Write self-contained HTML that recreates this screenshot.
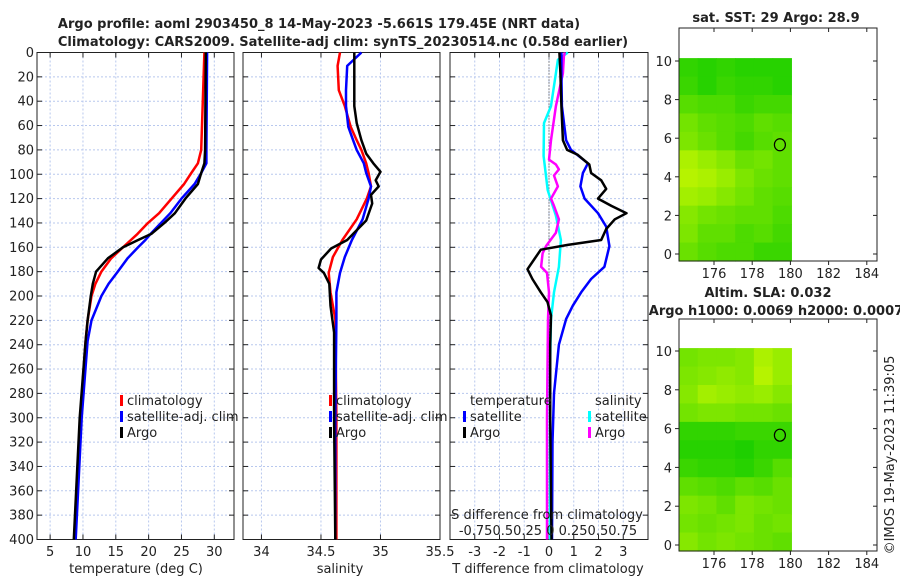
<!DOCTYPE html>
<html><head><meta charset="utf-8"><style>
body{margin:0;background:#fff;}
svg{display:block;font-family:"DejaVu Sans","Liberation Sans",sans-serif;}
</style></head><body>
<svg id="c" width="900" height="580" viewBox="0 0 900 580"></svg>
<script>
// temperature panel
const tDep=[0,80,91,99,108,120,132,140,149,154,160,169,180,190,200,220,237,300,400];
const tClim=[28.5,28.0,27.5,26.5,25.4,23.5,21.6,19.9,18.3,17.3,16.1,14.3,12.8,11.9,11.3,10.7,10.4,9.6,8.7];
const tSat=[28.9,28.8,28.8,28.0,27.0,25.0,23.3,21.9,20.3,19.5,18.4,16.8,15.3,13.9,12.8,11.3,10.7,9.8,8.9];
const tArgo=[28.7,28.6,28.5,28.0,27.5,25.6,24.0,22.4,20.4,18.4,16.1,13.8,12.0,11.5,11.2,10.7,10.4,9.5,8.6];
// salinity panel
const sDep=[0,11,31,44,61,72,80,91,99,110,120,137,154,168,181,197,219,300,400];
const sClim=[34.66,34.64,34.65,34.70,34.75,34.80,34.84,34.88,34.90,34.92,34.885,34.80,34.68,34.60,34.565,34.58,34.62,34.63,34.63];
const sSat=[34.84,34.72,34.71,34.71,34.73,34.77,34.80,34.86,34.88,34.92,34.90,34.85,34.76,34.70,34.66,34.63,34.63,34.62,34.62];
const aDep=[0,44,58,72,83,91,98,105,110,117,124,138,145,154,161,170,177,181,190,208,230,300,400];
const sArgo=[34.78,34.78,34.80,34.84,34.88,34.94,35.0,34.96,34.985,34.92,34.93,34.88,34.81,34.72,34.585,34.50,34.48,34.525,34.57,34.58,34.61,34.61,34.62];
// difference panel
const dDep=[0,17,44,72,80,84,92,99,105,112,120,126,132,137,145,154,158,162,170,178,186,197,205,216,240,300,400];
const dTArgo=[0.42,0.46,0.5,0.56,0.73,1.16,1.63,1.7,2.11,2.31,1.98,2.52,3.13,2.66,2.31,2.11,0.76,-0.33,-0.6,-0.87,-0.67,-0.33,-0.06,0.08,0.05,0.05,0.1];
const eDep=[0,17,44,72,80,91,99,110,120,132,143,159,176,186,197,208,219,240,280,320,400];
const dTSat=[0.5,0.5,0.52,0.69,0.89,1.57,1.37,1.27,1.44,1.98,2.31,2.44,2.24,1.7,1.3,0.96,0.69,0.4,0.2,0.14,0.12];
const fDep=[0,6,44,58,85,113,134,154,176,197,219,260,400];
const dSSat=[0.19,0.09,0.02,-0.05,-0.055,-0.013,0.07,0.12,0.1,0.05,0.02,0.01,0.01];
const gDep=[0,3,17,44,72,88,92,96,101,110,120,126,137,148,159,165,176,181,197,219,300,400];
const dSArgo=[0.16,0.15,0.14,0.07,0.02,0.0,0.07,0.1,0.05,0.09,0.02,0.05,0.1,0.07,-0.03,-0.065,-0.08,-0.02,0.0,-0.01,-0.02,-0.02];
const tTicks=[5,10,15,20,25,30], sTicks=[34,34.5,35,35.5], dTicks=[-3,-2,-1,0,1,2,3];
const yTicks=[0,20,40,60,80,100,120,140,160,180,200,220,240,260,280,300,320,340,360,380,400];
// map grids (rows top=lat 10 -> bottom lat 0, cols lon 174.4->180)
const sstGrid=[
[0.15,0.1,0.15,0.1,0.1,0.1],[0.2,0.1,0.2,0.15,0.15,0.1],[0.35,0.3,0.3,0.2,0.25,0.25],[0.5,0.4,0.35,0.3,0.4,0.35],
[0.55,0.45,0.35,0.25,0.35,0.4],[0.8,0.7,0.6,0.45,0.5,0.4],[0.85,0.8,0.7,0.55,0.45,0.4],[0.75,0.7,0.6,0.5,0.4,0.35],
[0.6,0.5,0.45,0.4,0.4,0.3],[0.55,0.4,0.4,0.3,0.35,0.25],[0.45,0.35,0.3,0.3,0.2,0.2]];
const slaGrid=[
[0.5,0.55,0.55,0.6,0.8,0.7],[0.55,0.6,0.65,0.6,0.85,0.7],[0.6,0.75,0.7,0.65,0.7,0.6],[0.5,0.55,0.55,0.5,0.5,0.45],
[0.15,0.15,0.15,0.2,0.2,0.2],[0.1,0.1,0.1,0.05,0.15,0.15],[0.2,0.15,0.15,0.1,0.2,0.35],[0.4,0.35,0.3,0.4,0.35,0.45],
[0.55,0.5,0.4,0.55,0.5,0.45],[0.5,0.45,0.5,0.55,0.45,0.5],[0.6,0.5,0.55,0.5,0.45,0.4]];
const argoLon=179.45, argoLat=5.66;

const svg=document.getElementById('c');
const NS='http://www.w3.org/2000/svg';
function el(tag,at,parent){const e=document.createElementNS(NS,tag);for(const k in at)e.setAttribute(k,at[k]);(parent||svg).appendChild(e);return e;}
function txt(s,x,y,at,parent){const e=el('text',Object.assign({x:x,y:y,'font-size':13,fill:'#222'},at||{}),parent);e.textContent=s;return e;}
const Y0=52.5,Y1=539.5;
const yS=d=>Y0+d/400*(Y1-Y0);
function panel(name,x0,x1,lo,hi,ticks,fmt){
  const g=el('g',{});
  
  
  const xs=v=>x0+(v-lo)/(hi-lo)*(x1-x0);
  ticks.forEach(t=>{el('line',{x1:xs(t),x2:xs(t),y1:Y0,y2:Y1,stroke:'#b8c8ee','stroke-width':1,'stroke-dasharray':'2,2'},g);
    el('line',{x1:xs(t),x2:xs(t),y1:Y1,y2:Y1-5,stroke:'#222'},g);el('line',{x1:xs(t),x2:xs(t),y1:Y0,y2:Y0+5,stroke:'#222'},g);
    const l=txt(fmt(t),xs(t),556,{'text-anchor':'middle'},g);});
  yTicks.forEach(d=>{if(d>0&&d<400)el('line',{x1:x0,x2:x1,y1:yS(d),y2:yS(d),stroke:'#b8c8ee','stroke-width':1,'stroke-dasharray':'2,2'},g);
    el('line',{x1:x0,x2:x0+5,y1:yS(d),y2:yS(d),stroke:'#222'},g);el('line',{x1:x1,x2:x1-5,y1:yS(d),y2:yS(d),stroke:'#222'},g);});
  el('rect',{x:x0,y:Y0,width:x1-x0,height:Y1-Y0,fill:'none',stroke:'#222'},g);
  return {g,xs};
}
function line(p,vals,deps,color,name,w){
  const pts=vals.map((v,i)=>p.xs(v).toFixed(1)+','+yS(deps[i]).toFixed(1)).join(' ');
  const l=el('polyline',{points:pts,fill:'none',stroke:color,'stroke-width':w||2.5,'stroke-linejoin':'round'},p.g);
  
  
}
function legend(p,x,y,color,label,name){
  el('rect',{x:x,y:y-10,width:3,height:11,fill:color},p.g);
  const t=txt(label,x+7,y,{},p.g);
  
  
}
yTicks.forEach(d=>{const l=txt(String(d),34,yS(d)+4.5,{'text-anchor':'end'});});
// panel 1
const p1=panel('temperature-panel',37,234,3,33,tTicks,String);
line(p1,tClim,tDep,'#f00','climatology-temp-line');
line(p1,tSat,tDep,'#00f','satellite-temp-line');
line(p1,tArgo,tDep,'#000','argo-temp-line');
legend(p1,120,405,'#f00','climatology','legend-climatology');
legend(p1,120,421,'#00f','satellite-adj. clim','legend-satellite');
legend(p1,120,437,'#000','Argo','legend-argo');
txt('temperature (deg C)',136,573,{'text-anchor':'middle'});
// panel 2
const p2=panel('salinity-panel',243,440,33.845,35.5,sTicks,String);
line(p2,sClim,sDep,'#f00','climatology-sal-line');
line(p2,sSat,sDep,'#00f','satellite-sal-line');
line(p2,sArgo,aDep,'#000','argo-sal-line');
legend(p2,329,405,'#f00','climatology','legend-climatology-sal');
legend(p2,329,421,'#00f','satellite-adj. clim','legend-satellite-sal');
legend(p2,329,437,'#000','Argo','legend-argo-sal');
txt('salinity',340,573,{'text-anchor':'middle'});
// panel 3
const p3=panel('difference-panel',450,648,-4,4,dTicks,String);
el('line',{x1:p3.xs(0),x2:p3.xs(0),y1:Y0,y2:Y1,stroke:'#333','stroke-dasharray':'1,2'},p3.g);
const ps={g:p3.g,xs:v=>p3.xs(v*4)};
line(ps,dSSat,fDep,'#0ff','satellite-sal-diff-line');
line(ps,dSArgo,gDep,'#f0f','argo-sal-diff-line');
line(p3,dTSat,eDep,'#00f','satellite-temp-diff-line');
line(p3,dTArgo,dDep,'#000','argo-temp-diff-line');
txt('temperature',470,405,{},p3.g);
legend(p3,463,421,'#00f','satellite','legend-diff-satellite-t');
legend(p3,463,437,'#000','Argo','legend-diff-argo-t');
txt('salinity',595,405,{},p3.g);
legend(p3,588,421,'#0ff','satellite','legend-diff-satellite-s');
legend(p3,588,437,'#f0f','Argo','legend-diff-argo-s');
txt('S difference from climatology',547,519,{'text-anchor':'middle'},p3.g);
txt('-0.750.50.25 0 0.250.50.75',548,535,{'text-anchor':'middle'},p3.g);
txt('T difference from climatology',548,573,{'text-anchor':'middle'});
// titles
txt('Argo profile: aoml 2903450_8 14-May-2023 -5.661S 179.45E (NRT data)',319,28,{'text-anchor':'middle','font-weight':'bold'});
txt('Climatology: CARS2009. Satellite-adj clim: synTS_20230514.nc (0.58d earlier)',343,46,{'text-anchor':'middle','font-weight':'bold'});
// maps
function cmap(v){const r=Math.round(20+v*190),g=Math.round(205+v*45);return `rgb(${r},${g},0)`;}
function mapPanel(name,ax0,ay0,ax1,ay1,lat10y,lat0y,grid,titles){
  const g=el('g',{});
  
  
  const lx=v=>714+(v-176)*19.1, ly=v=>lat0y+(v)/10*(lat10y-lat0y);
  const gx0=ax0, gx1=lx(180.05), gy0=ly(10.15), gy1=ay1;
  const rows=grid.length, cols=grid[0].length;
  grid.forEach((row,i)=>row.forEach((v,j)=>{
    const c=el('rect',{x:gx0+j*(gx1-gx0)/cols,y:gy0+i*(gy1-gy0)/rows,width:(gx1-gx0)/cols+0.6,height:(gy1-gy0)/rows+0.6,fill:cmap(v)},g);
    
    
  }));
  el('rect',{x:ax0,y:ay0,width:ax1-ax0,height:ay1-ay0,fill:'none',stroke:'#222'},g);
  [0,2,4,6,8,10].forEach(v=>{el('line',{x1:ax0,x2:ax0-4,y1:ly(v),y2:ly(v),stroke:'#222'},g);el('line',{x1:ax1,x2:ax1-4,y1:ly(v),y2:ly(v),stroke:'#222'},g);
    txt(String(v),ax0-7,ly(v)+5,{'text-anchor':'end'},g);});
  [176,178,180,182,184].forEach(v=>{el('line',{x1:lx(v),x2:lx(v),y1:ay1,y2:ay1+4,stroke:'#222'},g);el('line',{x1:lx(v),x2:lx(v),y1:ay0,y2:ay0+4,stroke:'#222'},g);
    txt(String(v),lx(v),ay1+17,{'text-anchor':'middle'},g);});
  const c=el('ellipse',{cx:lx(argoLon),cy:ly(argoLat),rx:5.5,ry:6,fill:'none',stroke:'#000','stroke-width':1.2},g);
  
  
  titles.forEach((t,i)=>txt(t[0],t[1],t[2],{'text-anchor':'middle','font-weight':'bold'},g));
}
mapPanel('sst-map',679,28,877,261,61,254,sstGrid,[['sat. SST: 29 Argo: 28.9',776,22]]);
mapPanel('sla-map',679,319,877,551,351,545,slaGrid,[['Altim. SLA: 0.032',768,297],['Argo h1000: 0.0069 h2000: 0.0007',776,315]]);
const cr=txt('©IMOS 19-May-2023 11:39:05',0,0,{'text-anchor':'middle',transform:'translate(894,455) rotate(-90)'});


</script>
</body></html>
